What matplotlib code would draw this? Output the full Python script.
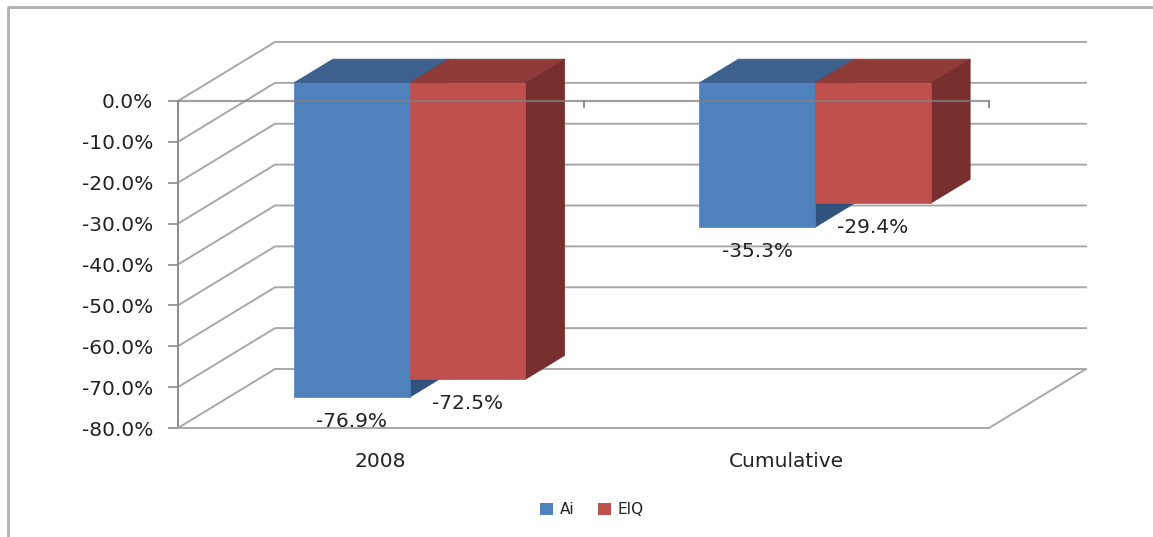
import matplotlib
matplotlib.use('Agg')
import matplotlib.pyplot as plt
from matplotlib.patches import Polygon, Patch

W, H = 1153, 537
# depth of the 3d box and the bars, as fraction of the full depth
DEPTH_X = 97 / 405.5
DEPTH_Y = 59 / 4.0875
BAR_NEAR = 0.305
BAR_FAR = 0.71
BAR_W = 0.2857
GRID = '#a8a8a8'
AXIS = '#8c8c8c'
TEXT = '#222222'

categories = ['2008', 'Cumulative']
series_names = ['Ai', 'EIQ']
ai_values = [-76.9, -35.3]
eiq_values = [-72.5, -29.4]
value_ticks = [0, -10, -20, -30, -40, -50, -60, -70, -80]
front_colors = ['#4f81bd', '#c0504d']
top_colors = ['#3c618e', '#8f3b39']
side_colors = ['#30527c', '#772f2d']


def proj(x, y, z):
    return x + z * DEPTH_X, y + z * DEPTH_Y


def draw_bar(ax, x0, x1, val, i):
    near = [proj(x0, 0, BAR_NEAR), proj(x1, 0, BAR_NEAR)]
    far = [proj(x0, 0, BAR_FAR), proj(x1, 0, BAR_FAR)]
    top = [near[0], near[1], far[1], far[0]]
    side = [proj(x1, 0, BAR_NEAR), proj(x1, 0, BAR_FAR), proj(x1, val, BAR_FAR), proj(x1, val, BAR_NEAR)]
    front = [proj(x0, 0, BAR_NEAR), proj(x1, 0, BAR_NEAR), proj(x1, val, BAR_NEAR), proj(x0, val, BAR_NEAR)]
    for pts, c in [(top, top_colors[i]), (side, side_colors[i]), (front, front_colors[i])]:
        ax.add_patch(Polygon(pts, closed=True, facecolor=c, edgecolor=c, lw=0.5, clip_on=False, zorder=3))


plt.rcParams['font.family'] = 'DejaVu Sans'
fig = plt.figure(figsize=(W / 100, H / 100), dpi=100)

# chart border, only left and top are in the crop
fig.add_artist(plt.Line2D([8 / W, 8 / W, 1], [0, 1 - 7 / H, 1 - 7 / H], color='#b0b0b0', lw=2))

ax = fig.add_axes([178 / W, 1 - 428 / H, (989 - 178) / W, (428 - 101) / H])
ax.set_xlim(0, 2)
ax.set_ylim(-80, 0)
ax.patch.set_alpha(0)

# back wall and side wall gridlines
for v in value_ticks:
    x, y = proj(0, v, 1)
    x2, y2 = proj(2, v, 1)
    ax.plot([0, x, x2], [v, y, y2], color=GRID, lw=1.4, clip_on=False, zorder=1)
# floor edge on the right
x, y = proj(2, -80, 1)
ax.plot([2, x], [-80, y], color=GRID, lw=1.4, clip_on=False, zorder=1)

for c in range(len(categories)):
    left = c + 0.5 - BAR_W - 0.002
    draw_bar(ax, left, left + BAR_W, ai_values[c], 0)
    draw_bar(ax, left + BAR_W, left + 2 * BAR_W, eiq_values[c], 1)
    for i, val in enumerate([ai_values[c], eiq_values[c]]):
        bx, by = proj(left + (i + 0.5) * BAR_W, val, BAR_NEAR)
        ax.annotate('%.1f%%' % val, (bx, by), xytext=(0, -17.5), textcoords='offset points',
                    ha='center', va='center', fontsize=14.5, color=TEXT, annotation_clip=False, zorder=5)

ax.spines['right'].set_visible(False)
ax.spines['top'].set_visible(False)
ax.spines['left'].set_color(AXIS)
ax.spines['left'].set_linewidth(1.4)
ax.spines['bottom'].set_color(GRID)
ax.spines['bottom'].set_linewidth(1.4)

# category axis sits at 0 and shows through the bars
ax.plot([0, 2], [0, 0], color='#808080', lw=1.6, alpha=0.75, clip_on=False, zorder=4)
for x in [0, 1, 2]:
    ax.plot([x, x], [0, -1.4], color=AXIS, lw=1.4, clip_on=False, zorder=4)

ax.set_yticks(value_ticks)
ax.set_yticklabels(['%.1f%%' % v for v in value_ticks], fontsize=14.5, color=TEXT)
ax.tick_params(axis='y', color=AXIS, width=1.2, length=7, pad=11)
ax.set_xticks([0.5, 1.5])
ax.set_xticklabels(categories, fontsize=14.5, color=TEXT)
ax.tick_params(axis='x', length=0, pad=17)

handles = [Patch(facecolor=front_colors[i], label=series_names[i]) for i in range(2)]
fig.legend(handles=handles, loc='center', bbox_to_anchor=(592 / W, 1 - 510 / H), ncol=2, frameon=False,
           fontsize=11, handlelength=0.85, handleheight=0.85, handletextpad=0.45, columnspacing=1.55,
           labelcolor=TEXT)

fig.savefig('out.png', dpi=100)
